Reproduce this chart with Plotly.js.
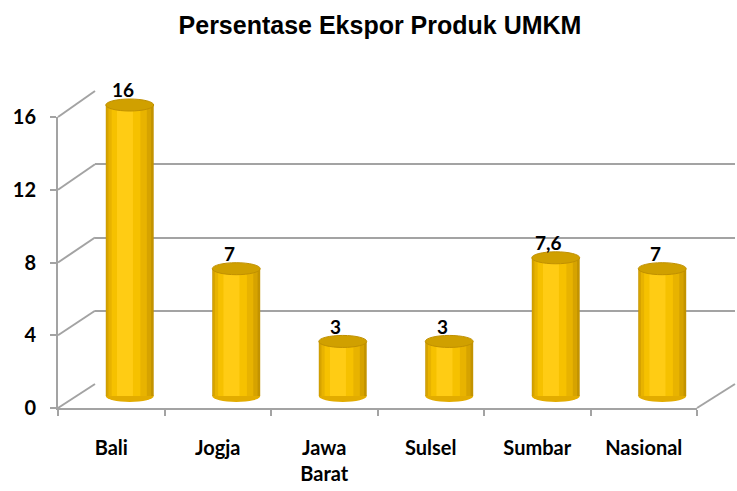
<!DOCTYPE html>
<html>
<head>
<meta charset="utf-8">
<script src="https://cdn.plot.ly/plotly-3.0.1.min.js"></script>
<style>html,body{margin:0;padding:0;background:#fff}#chart{width:737px;height:491px}</style>
</head>
<body>
<div id="chart"></div>
<script>
// ---- data ----
const categories = ['Bali', 'Jogja', 'Jawa Barat', 'Sulsel', 'Sumbar', 'Nasional'];
const tickLabels = ['Bali', 'Jogja', 'Jawa<br>Barat', 'Sulsel', 'Sumbar', 'Nasional'];
const values = [16, 7, 3, 3, 7.6, 7];
const valueLabels = ['16', '7', '3', '3', '7,6', '7'];
const yTicks = [0, 4, 8, 12, 16];
const yTickLabels = ['0', '4', '8', '12', '16'];

// ---- geometry / style ----
const W = 737, H = 491;
const px = x => x / W, py = y => 1 - y / H;
const front = {x0: 58, x1: 697, y0: 408, y1: 117};
const back = {x0: 95, x1: 735, y0: 384, y1: 91};
const unitPx = (front.y0 - front.y1) / 16;
const depthDx = 18.5, depthDy = 12;
const yMin = -1, yMax = 17;
const grid = '#a3a3a3';
const idx = categories.map((_, i) => i);

const barW = 0.45;
const shade = [
  {w: 0.45, s: 0.0,   c: '#c39300'},
  {w: 0.42, s: -0.01, c: '#d6a300'},
  {w: 0.36, s: -0.02, c: '#e8b300'},
  {w: 0.27, s: -0.035, c: '#f6c100'},
  {w: 0.15, s: -0.045, c: '#ffcc14'}
];
const ellH = 0.33;

const traces = [];
// back wall subplot (xy) - gridlines only
traces.push({type: 'scatter', x: [], y: [], xaxis: 'x', yaxis: 'y', hoverinfo: 'skip', showlegend: false});
// bars (x2y2)
shade.forEach(l => {
  traces.push({
    type: 'bar', x: idx, y: values, width: l.w, offset: l.s - l.w / 2,
    marker: {color: l.c, line: {width: 0}},
    xaxis: 'x2', yaxis: 'y2', hoverinfo: 'skip', showlegend: false
  });
});
// front axes (x3y3)
traces.push({type: 'scatter', x: [], y: [], xaxis: 'x3', yaxis: 'y3', hoverinfo: 'skip', showlegend: false});

const shapes = [];
// diagonals from front axis to back wall
yTicks.forEach(v => {
  shapes.push({type: 'line', xref: 'paper', yref: 'paper', layer: 'below',
    x0: px(front.x0), y0: py(front.y0 - v * unitPx),
    x1: px(back.x0), y1: py(back.y0 - v * (back.y0 - back.y1) / 16),
    line: {color: grid, width: 2}});
});
shapes.push({type: 'line', xref: 'paper', yref: 'paper', layer: 'below',
  x0: px(front.x1), y0: py(front.y0), x1: px(back.x1), y1: py(back.y0),
  line: {color: grid, width: 2}});
// cylinder tops and bottoms
values.forEach((v, i) => {
  shapes.push({type: 'circle', xref: 'x2', yref: 'y2', layer: 'below',
    x0: i - barW / 2, x1: i + barW / 2, y0: -ellH, y1: ellH,
    fillcolor: '#e2ac00', line: {width: 0}});
  shapes.push({type: 'circle', xref: 'x2', yref: 'y2', layer: 'above',
    x0: i - barW / 2, x1: i + barW / 2, y0: v - ellH, y1: v + ellH,
    fillcolor: '#d0a000', line: {color: '#c09000', width: 1}});
});

const annotations = values.map((v, i) => ({
  xref: 'x2', yref: 'y2', x: i, y: v + ellH * 0.3, text: valueLabels[i], showarrow: false,
  yanchor: 'bottom', xshift: -7, yshift: 0,
  font: {family: 'Lato, sans-serif', size: 19, color: '#000', weight: 700}
}));

const layout = {
  width: W, height: H,
  margin: {l: 0, r: 0, t: 0, b: 0},
  paper_bgcolor: '#fff', plot_bgcolor: 'rgba(0,0,0,0)',
  showlegend: false, barmode: 'overlay',
  title: {text: 'Persentase Ekspor Produk UMKM', x: px(380), xanchor: 'center', y: py(25), yanchor: 'middle',
    font: {family: 'Liberation Sans, Arial, sans-serif', size: 25, color: '#000', weight: 700}},
  xaxis: {domain: [px(back.x0), px(back.x1)], range: [0, 1], visible: false, anchor: 'y'},
  yaxis: {domain: [py(back.y0), py(back.y1)], range: [0, 16], anchor: 'x',
    tickmode: 'array', tickvals: yTicks, showticklabels: false, ticks: '',
    showgrid: true, gridcolor: grid, gridwidth: 2, zeroline: false, showline: false},
  xaxis2: {domain: [px(front.x0 + depthDx), px(front.x1 + depthDx)], range: [-0.5, 5.5], visible: false, anchor: 'y2'},
  yaxis2: {domain: [py(front.y0 - depthDy - yMin * unitPx), py(front.y0 - depthDy - yMax * unitPx)],
    range: [yMin, yMax], visible: false, anchor: 'x2'},
  xaxis3: {domain: [px(front.x0), px(front.x1)], range: [-0.5, 5.5], anchor: 'y3',
    tickmode: 'array', tickvals: idx, ticktext: tickLabels, ticks: '',
    minor: {ticks: 'outside', tick0: -0.5, dtick: 1, ticklen: 6, tickwidth: 2, tickcolor: grid, showgrid: false},
    showline: true, linecolor: grid, linewidth: 2, showgrid: false, zeroline: false,
    tickfont: {family: 'Lato, sans-serif', size: 20, color: '#000', weight: 700}, ticklabelstandoff: 21},
  yaxis3: {domain: [py(front.y0), py(front.y1)], range: [0, 16], anchor: 'x3',
    tickmode: 'array', tickvals: yTicks, ticktext: yTickLabels,
    ticks: 'outside', ticklen: 6, tickwidth: 2, tickcolor: grid,
    showline: true, linecolor: grid, linewidth: 2, showgrid: false, zeroline: false,
    tickfont: {family: 'Lato, sans-serif', size: 20, color: '#000', weight: 700}, ticklabelstandoff: 10},
  shapes: shapes,
  annotations: annotations
};

Plotly.newPlot('chart', traces, layout, {displayModeBar: false, staticPlot: true});
</script>
</body>
</html>
